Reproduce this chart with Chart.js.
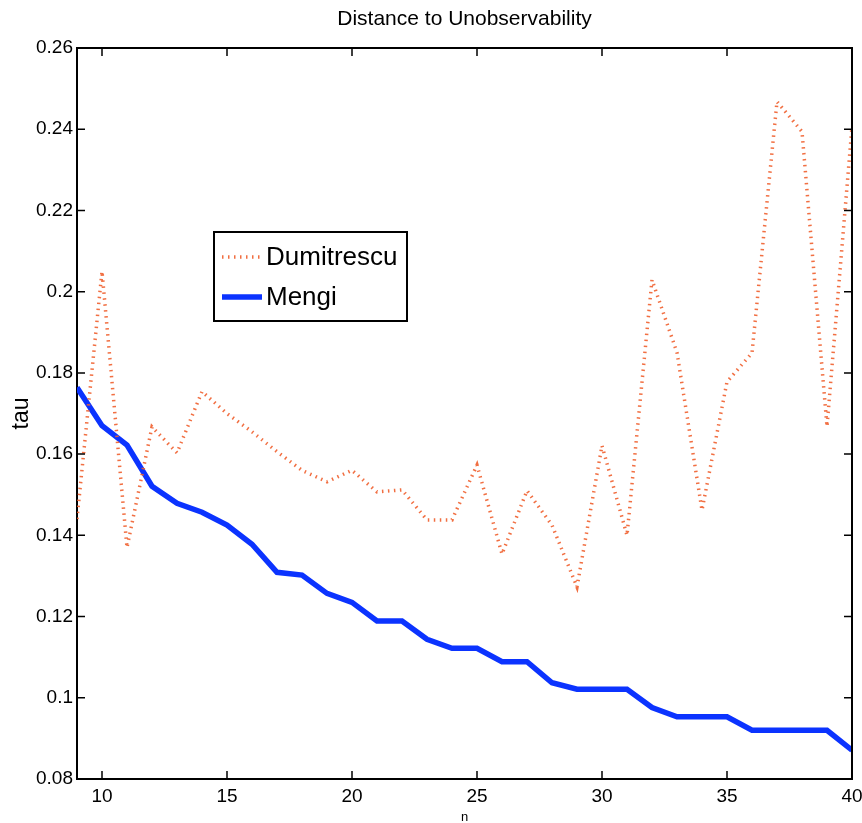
<!DOCTYPE html>
<html>
<head>
<meta charset="utf-8">
<title>Distance to Unobservability</title>
<script src="https://cdn.jsdelivr.net/npm/chart.js@4.4.1/dist/chart.umd.min.js"></script>
<style>
    html, body { margin: 0; padding: 0; background: #fff; }
    canvas { display: block; }
</style>
</head>
<body>
<canvas id="chart-tau" width="862" height="823"></canvas>
<script>
// Data
const nValues = [9, 10, 11, 12, 13, 14, 15, 16, 17, 18, 19, 20, 21, 22, 23, 24,
    25, 26, 27, 28, 29, 30, 31, 32, 33, 34, 35, 36, 37, 38, 39, 40];
const dumitrescu = [0.144, 0.205, 0.137, 0.1667, 0.1603, 0.1754, 0.170, 0.1655,
    0.1606, 0.156, 0.1532, 0.156, 0.1507, 0.1512, 0.1438, 0.1438,
    0.1573, 0.1354, 0.151, 0.1425, 0.1273, 0.1621, 0.140, 0.2029,
    0.185, 0.1462, 0.1778, 0.1849, 0.2468, 0.2394, 0.1668, 0.2406];
const mengi = [0.1764, 0.167, 0.1622, 0.1521, 0.1479, 0.1457, 0.1425, 0.1378,
    0.1309, 0.1302, 0.1257, 0.1235, 0.1189, 0.1189, 0.1144, 0.1122,
    0.1122, 0.1089, 0.1089, 0.1037, 0.1021, 0.1021, 0.1021, 0.0976,
    0.0953, 0.0953, 0.0953, 0.092, 0.092, 0.092, 0.092, 0.0871];
const xTicks = [10, 15, 20, 25, 30, 35, 40];
const yTicks = [0.08, 0.1, 0.12, 0.14, 0.16, 0.18, 0.2, 0.22, 0.24, 0.26];

const FONT = "'Liberation Sans', Arial, Helvetica, sans-serif";

function toPoints(ys) {
    return nValues.map((n, i) => ({ x: n, y: ys[i] }));
}

// Inward tick marks on all four sides, plus top and right frame
const frameTicks = {
    id: 'frameTicks',
    afterDraw(chart) {
        const { ctx, chartArea: a, scales: { x, y } } = chart;
        const len = 8;
        ctx.save();
        ctx.strokeStyle = '#000';
        ctx.lineWidth = 1.5;
        ctx.beginPath();
        x.ticks.forEach(t => {
            const px = x.getPixelForValue(t.value);
            ctx.moveTo(px, a.bottom); ctx.lineTo(px, a.bottom - len);
            ctx.moveTo(px, a.top); ctx.lineTo(px, a.top + len);
        });
        y.ticks.forEach(t => {
            const py = y.getPixelForValue(t.value);
            ctx.moveTo(a.left, py); ctx.lineTo(a.left + len, py);
            ctx.moveTo(a.right, py); ctx.lineTo(a.right - len, py);
        });
        ctx.stroke();

        ctx.lineWidth = 2;
        ctx.beginPath();
        ctx.moveTo(a.left, a.top); ctx.lineTo(a.right, a.top); ctx.lineTo(a.right, a.bottom);
        ctx.stroke();

        // title centred over the plot area
        ctx.fillStyle = '#000';
        ctx.font = '21px ' + FONT;
        ctx.textAlign = 'center';
        ctx.textBaseline = 'middle';
        ctx.fillText('Distance to Unobservability', (a.left + a.right) / 2, 19);
        ctx.restore();
    }
};

// Legend box inside the plot, upper left
const boxLegend = {
    id: 'boxLegend',
    afterDraw(chart) {
        const ctx = chart.ctx;
        const bx = 214, by = 232, bw = 193, bh = 89;
        ctx.save();
        ctx.fillStyle = '#fff';
        ctx.fillRect(bx, by, bw, bh);
        ctx.strokeStyle = '#000';
        ctx.lineWidth = 2;
        ctx.strokeRect(bx, by, bw, bh);

        chart.data.datasets.forEach((ds, i) => {
            const rowY = by + 25 + i * 40;
            ctx.beginPath();
            ctx.strokeStyle = ds.borderColor;
            ctx.lineWidth = ds.borderWidth;
            ctx.setLineDash(ds.borderDash || []);
            ctx.moveTo(bx + 8, rowY);
            ctx.lineTo(bx + 48, rowY);
            ctx.stroke();
            ctx.setLineDash([]);
            ctx.fillStyle = '#000';
            ctx.font = '26px ' + FONT;
            ctx.textAlign = 'left';
            ctx.textBaseline = 'middle';
            ctx.fillText(ds.label, bx + 52, rowY + 1);
        });
        ctx.restore();
    }
};

const ctx = document.getElementById('chart-tau');
new Chart(ctx, {
    type: 'line',
    data: {
        datasets: [
            {
                label: 'Dumitrescu',
                data: toPoints(dumitrescu),
                borderColor: 'rgba(240, 95, 45, 0.9)',
                borderWidth: 3.5,
                borderDash: [1.5, 4.5],
                borderCapStyle: 'butt',
                pointRadius: 0,
                tension: 0
            },
            {
                label: 'Mengi',
                data: toPoints(mengi),
                borderColor: '#0b33ff',
                borderWidth: 5.5,
                pointRadius: 0,
                tension: 0
            }
        ]
    },
    options: {
        responsive: false,
        animation: false,
        devicePixelRatio: 1,
        layout: { padding: { left: 0, right: 0, top: 48, bottom: 0 } },
        plugins: {
            legend: { display: false },
            title: { display: false },
            tooltip: { enabled: false }
        },
        scales: {
            x: {
                type: 'linear',
                min: 9,
                max: 40,
                afterBuildTicks: (scale) => { scale.ticks = xTicks.map(v => ({ value: v })); },
                afterFit: (scale) => {
                    scale.height = 44;
                    scale.paddingLeft = 0;
                    scale.paddingRight = 10;
                },
                grid: { display: true, drawOnChartArea: false, drawTicks: false },
                border: { display: true, color: '#000', width: 2 },
                ticks: {
                    color: '#000',
                    padding: 6,
                    maxRotation: 0,
                    font: { family: FONT, size: 19 }
                },
                title: {
                    display: true,
                    text: 'n',
                    color: '#000',
                    padding: { top: 0, bottom: 0 },
                    font: { family: FONT, size: 13, lineHeight: 0.8 }
                }
            },
            y: {
                min: 0.08,
                max: 0.26,
                afterBuildTicks: (scale) => { scale.ticks = yTicks.map(v => ({ value: v })); },
                afterFit: (scale) => { scale.width = 77; },
                grid: { display: true, drawOnChartArea: false, drawTicks: false },
                border: { display: true, color: '#000', width: 2 },
                ticks: {
                    color: '#000',
                    padding: 4,
                    font: { family: FONT, size: 19 },
                    callback: (v) => String(parseFloat(Number(v).toFixed(2)))
                },
                title: {
                    display: true,
                    text: 'tau',
                    color: '#000',
                    padding: { top: 8, bottom: 0 },
                    font: { family: FONT, size: 23 }
                }
            }
        }
    },
    plugins: [frameTicks, boxLegend]
});
</script>
</body>
</html>
